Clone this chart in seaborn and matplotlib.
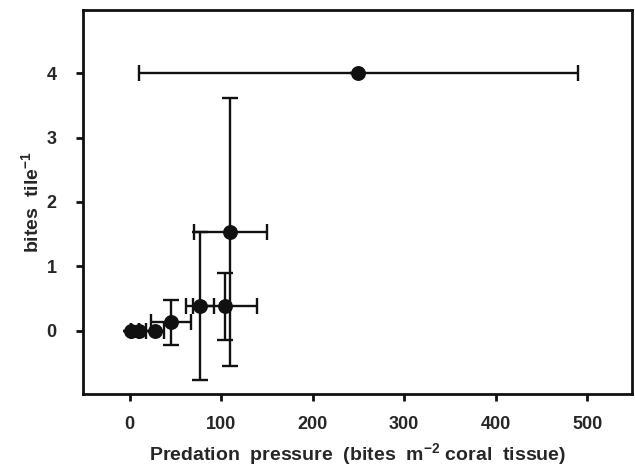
import matplotlib
matplotlib.use("Agg")
import matplotlib.pyplot as plt
import seaborn as sns
import pandas as pd

# Data
pressure = [1, 10, 28, 45, 77, 104, 110, 250]
bites = [0.0, 0.0, 0.0, 0.13, 0.38, 0.38, 1.54, 4.0]
pressure_err = [0, 0, 10, 22, 15, 35, 40, 240]
bites_err = [0, 0, 0, 0.35, 1.15, 0.52, 2.08, 0]
x_ticks = [0, 100, 200, 300, 400, 500]
y_ticks = [0, 1, 2, 3, 4]

df = pd.DataFrame({"pressure": pressure, "bites": bites,
                   "xerr": pressure_err, "yerr": bites_err})

sns.set_style("ticks")
plt.rcParams['font.family'] = ['Liberation Sans', 'DejaVu Sans']
plt.rcParams['mathtext.fontset'] = 'custom'
plt.rcParams['mathtext.rm'] = 'Liberation Sans:bold'
plt.rcParams['mathtext.bf'] = 'Liberation Sans:bold'
plt.rcParams['mathtext.default'] = 'bf'

fig = plt.figure(figsize=(6.35, 4.71), dpi=100)
ax = fig.add_axes([83/635, 1-394/471, (632-83)/635, (394-10)/471])

ax.errorbar(df["pressure"], df["bites"], xerr=df["xerr"], yerr=df["yerr"],
            fmt='none', ecolor='#111111', elinewidth=1.7, capsize=6, capthick=1.7,
            zorder=2)
sns.scatterplot(data=df, x="pressure", y="bites", ax=ax, color='#111111',
                s=115, edgecolor='#111111', linewidth=0, zorder=3)

ax.set_xlim(-51, 549)
ax.set_ylim(-0.98, 4.98)
ax.set_xticks(x_ticks)
ax.set_yticks(y_ticks)
ax.set_xticklabels([str(v) for v in x_ticks], fontsize=13, fontweight='bold')
ax.set_yticklabels([str(v) for v in y_ticks], fontsize=13, fontweight='bold')

for s in ax.spines.values():
    s.set_linewidth(2)
    s.set_color('#111111')
    s.set_visible(True)
ax.tick_params(axis='x', direction='out', length=5, width=2, color='#111111', pad=11)
ax.tick_params(axis='y', direction='out', length=5, width=2, color='#111111', pad=14)

ax.set_xlabel(r"Predation  pressure  (bites  m$^{\mathbf{-2}}$ coral  tissue)",
              fontsize=14, fontweight='bold', labelpad=6)
ax.set_ylabel(r"bites  tile$^{\mathbf{-1}}$", fontsize=14, fontweight='bold', labelpad=3)

fig.savefig("out.png", dpi=100)
